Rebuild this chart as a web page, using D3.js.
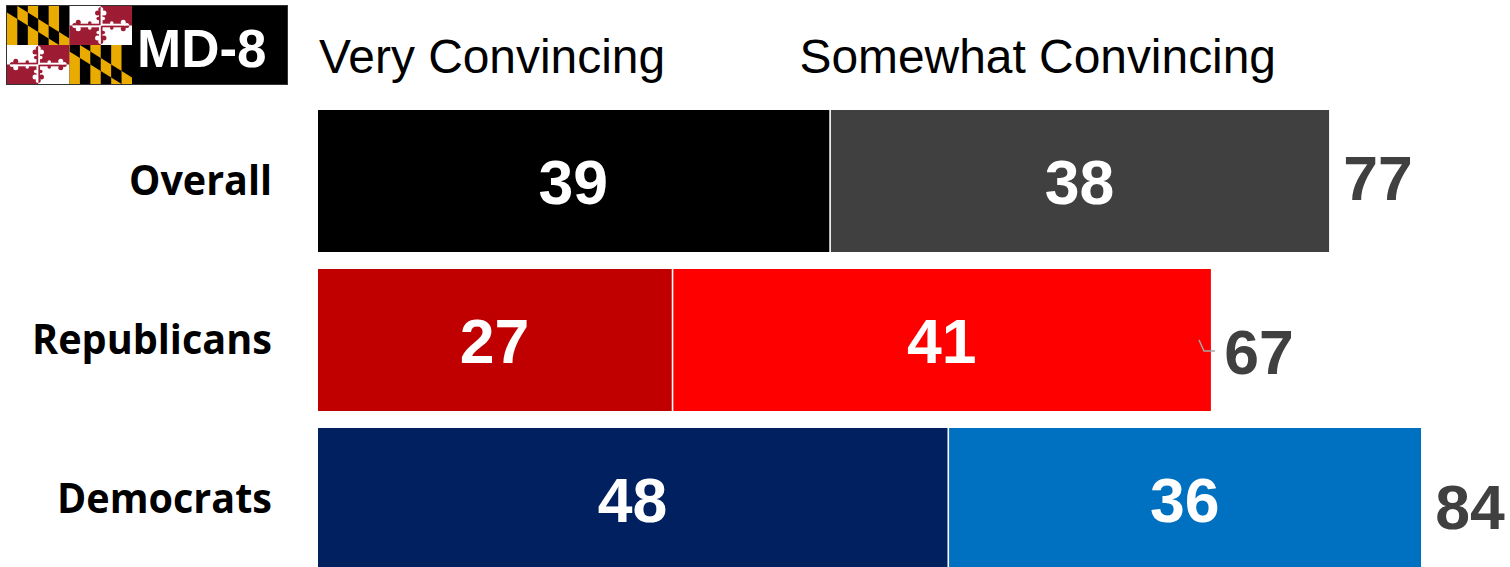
<!DOCTYPE html>
<html>
<head>
<meta charset="utf-8">
<script src="https://cdnjs.cloudflare.com/ajax/libs/d3/7.8.5/d3.min.js"></script>
<style>
  html, body { margin: 0; padding: 0; background: #fff; }
  svg { display: block; }
  text { font-family: "Liberation Sans", Arial, sans-serif; }
</style>
</head>
<body>
<div id="chart"></div>
<script>
// Survey groups and the share finding the message convincing
const groups = ["Overall", "Republicans", "Democrats"];
const veryConvincing = [39, 27, 48];
const somewhatConvincing = [38, 41, 36];
const netConvincing = [77, 67, 84];
const veryColors = ["#000000", "#C00000", "#002060"];
const somewhatColors = ["#404040", "#FF0000", "#0070C0"];
const headers = ["Very Convincing", "Somewhat Convincing"];
const badgeLabel = "MD-8";

const width = 1510, height = 567;
const svg = d3.select("#chart").append("svg").attr("width", width).attr("height", height);

const x = d3.scaleLinear().domain([0, 84]).range([318, 1421]);
const y = d3.scaleBand().domain(groups).range([110, 570]).paddingInner(17 / 159).paddingOuter(0);

// Column headers
svg.selectAll("text.header").data(headers).join("text")
  .attr("class", "header")
  .attr("x", (d, i) => [319, 799.5][i])
  .attr("y", 73)
  .attr("font-size", 47.9)
  .attr("fill", "#000")
  .text(d => d);

// Row labels
svg.selectAll("text.group").data(groups).join("text")
  .attr("class", "group")
  .attr("x", 272)
  .attr("y", d => y(d) + 85)
  .attr("text-anchor", "end")
  .attr("font-size", 42)
  .attr("font-weight", 700)
  .attr("fill", "#000")
  .style("font-family", "'Open Sans', sans-serif")
  .attr("textLength", (d, i) => [143, 240, 215][i])
  .attr("lengthAdjust", "spacingAndGlyphs")
  .text(d => d);

// Stacked segments with a thin white seam between them
const rows = svg.selectAll("g.row").data(groups).join("g").attr("class", "row");

rows.append("rect")
  .attr("x", x(0))
  .attr("y", d => y(d))
  .attr("width", (d, i) => x(veryConvincing[i]) - x(0) - 0.8)
  .attr("height", y.bandwidth())
  .attr("fill", (d, i) => veryColors[i]);

rows.append("rect")
  .attr("x", (d, i) => x(veryConvincing[i]) + 0.8)
  .attr("y", d => y(d))
  .attr("width", (d, i) => x(veryConvincing[i] + somewhatConvincing[i]) - x(veryConvincing[i]) - 0.8)
  .attr("height", y.bandwidth())
  .attr("fill", (d, i) => somewhatColors[i]);

const valueStyle = s => s
  .attr("text-anchor", "middle")
  .attr("font-size", 62.5)
  .attr("font-weight", 700);

rows.append("text").call(valueStyle)
  .attr("x", (d, i) => x(veryConvincing[i] / 2) - 0.7)
  .attr("y", d => y(d) + 94)
  .attr("fill", "#fff")
  .text((d, i) => veryConvincing[i]);

rows.append("text").call(valueStyle)
  .attr("x", (d, i) => x(veryConvincing[i] + somewhatConvincing[i] / 2))
  .attr("y", d => y(d) + 94)
  .attr("fill", "#fff")
  .text((d, i) => somewhatConvincing[i]);

// Net totals sit just past the end of each bar
const totalBase = [200, 374, 529];
rows.append("text").call(valueStyle)
  .attr("x", (d, i) => x(veryConvincing[i] + somewhatConvincing[i]) + [49, 48, 49][i])
  .attr("y", (d, i) => totalBase[i])
  .attr("fill", "#404040")
  .text((d, i) => netConvincing[i]);

// Leader line for the Republican total
svg.append("path")
  .attr("d", "M1199,340 L1204,351 L1215,351")
  .attr("fill", "none")
  .attr("stroke", "#A6A6A6")
  .attr("stroke-width", 1.5);

// State flag badge
const badge = svg.append("g");
badge.append("rect").attr("x", 6.5).attr("y", 5.5).attr("width", 281).attr("height", 79)
  .attr("fill", "#000").attr("stroke", "#333").attr("stroke-width", 1);

const gold = "#EAAB00", black = "#000", crimson = "#9E1B34";
const fx = 7, fy = 6, qw = 62.5, qh = 39;
const defs = svg.append("defs");

// Paly of six with a counterchanged bend
function calvert(id, ox, oy) {
  const sw = qw / 6;
  defs.append("clipPath").attr("id", id).append("path")
    .attr("d", `M${ox},${oy} L${ox + sw},${oy} L${ox + qw},${oy + qh * 5 / 6} L${ox + qw},${oy + qh} L${ox + 5 * sw},${oy + qh} L${ox},${oy + qh / 6} Z`);
  const g = badge.append("g");
  d3.range(6).forEach(i => {
    g.append("rect").attr("x", ox + i * sw).attr("y", oy).attr("width", sw + 0.3).attr("height", qh)
      .attr("fill", i % 2 === 0 ? gold : black);
    g.append("rect").attr("x", ox + i * sw).attr("y", oy).attr("width", sw + 0.3).attr("height", qh)
      .attr("clip-path", `url(#${id})`)
      .attr("fill", i % 2 === 0 ? black : gold);
  });
}

// Quartered white and crimson with a counterchanged bottony cross
function crossland(id, ox, oy) {
  const g = badge.append("g");
  const cx = ox + qw / 2, cy = oy + qh / 2;
  g.append("rect").attr("x", ox).attr("y", oy).attr("width", qw).attr("height", qh).attr("fill", "#fff");
  g.append("rect").attr("x", cx).attr("y", oy).attr("width", qw / 2).attr("height", qh / 2).attr("fill", crimson);
  g.append("rect").attr("x", ox).attr("y", cy).attr("width", qw / 2).attr("height", qh / 2).attr("fill", crimson);

  const whiteClip = defs.append("clipPath").attr("id", id + "-w");
  whiteClip.append("rect").attr("x", ox).attr("y", oy).attr("width", qw / 2).attr("height", qh / 2);
  whiteClip.append("rect").attr("x", cx).attr("y", cy).attr("width", qw / 2).attr("height", qh / 2);
  const redClip = defs.append("clipPath").attr("id", id + "-r");
  redClip.append("rect").attr("x", cx).attr("y", oy).attr("width", qw / 2).attr("height", qh / 2);
  redClip.append("rect").attr("x", ox).attr("y", cy).attr("width", qw / 2).attr("height", qh / 2);

  const hLen = 25, vLen = 15;
  const drawCross = (color, clip) => {
    const c = g.append("g").attr("clip-path", `url(#${clip})`).attr("fill", color);
    c.append("rect").attr("x", cx - hLen).attr("y", cy - 1.8).attr("width", 2 * hLen).attr("height", 3.6);
    c.append("rect").attr("x", cx - 1.8).attr("y", cy - vLen).attr("width", 3.6).attr("height", 2 * vLen);
    [-1, 1].forEach(s => {
      [[s * (hLen + 1), 0], [s * (hLen - 2.5), -3.2], [s * (hLen - 2.5), 3.2],
       [s * 11, -2.5], [s * 11, 2.5]].forEach(([dx, dy]) => {
        c.append("circle").attr("cx", cx + dx).attr("cy", cy + dy).attr("r", dx === s * 11 ? 1.8 : 2.5);
      });
      [[0, s * (vLen + 1)], [-3.2, s * (vLen - 2.5)], [3.2, s * (vLen - 2.5)],
       [-2.5, s * 7], [2.5, s * 7]].forEach(([dx, dy]) => {
        c.append("circle").attr("cx", cx + dx).attr("cy", cy + dy).attr("r", dy === s * 7 ? 1.8 : 2.5);
      });
    });
  };
  drawCross(crimson, id + "-w");
  drawCross("#fff", id + "-r");
}

calvert("calvert-a", fx, fy);
crossland("crossland-a", fx + qw, fy);
crossland("crossland-b", fx, fy + qh);
calvert("calvert-b", fx + qw, fy + qh);

badge.append("text")
  .attr("x", 137).attr("y", 67)
  .attr("font-size", 53).attr("font-weight", 700).attr("fill", "#fff")
  .text(badgeLabel);
</script>
</body>
</html>
